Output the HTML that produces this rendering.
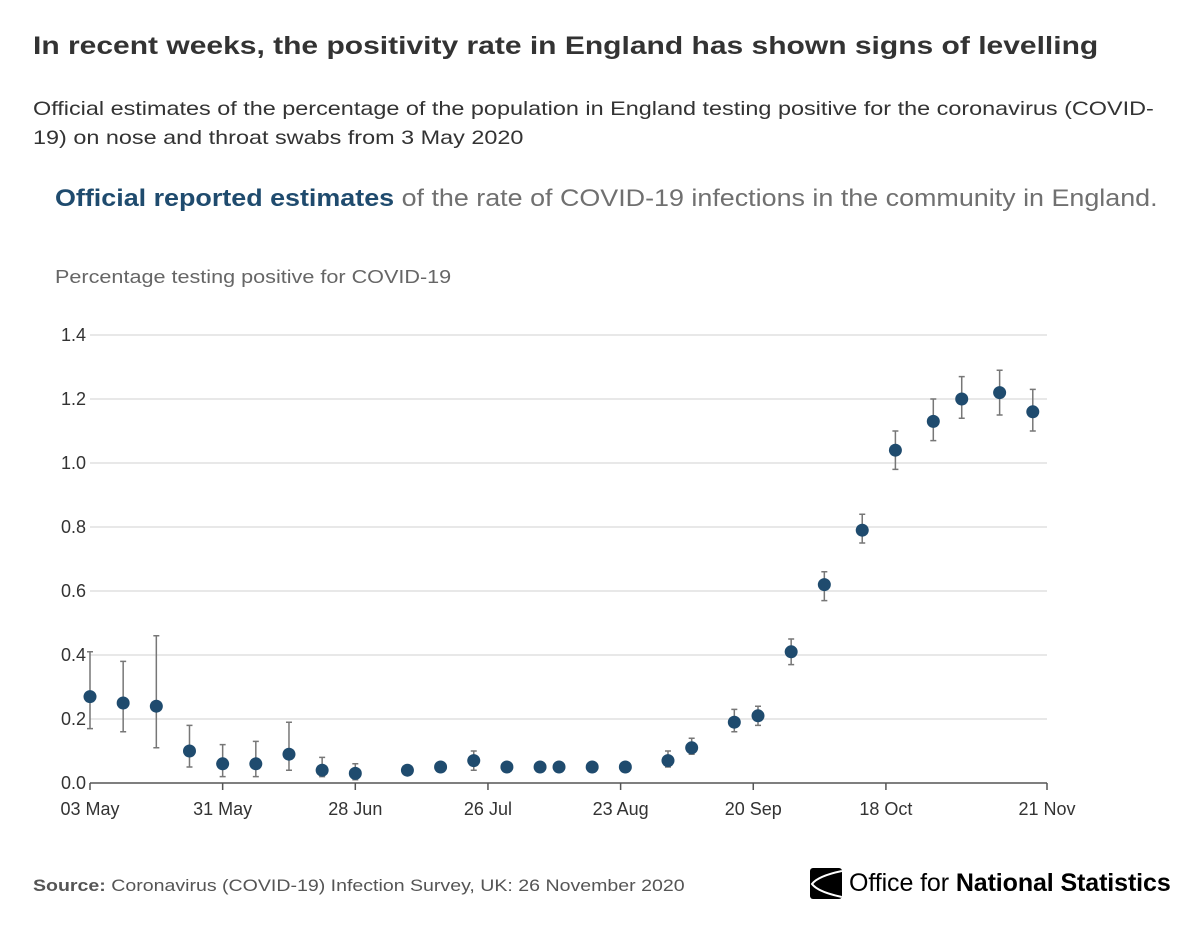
<!DOCTYPE html>
<html><head><meta charset="utf-8">
<style>
body{margin:0;width:1200px;height:929px;background:#fff;font-family:"Liberation Sans",sans-serif;position:relative;overflow:hidden}
.t{position:absolute;white-space:nowrap;transform-origin:0 0}
</style></head><body>
<div class="t" style="left:33px;top:32px;font-size:25px;font-weight:bold;color:#333;transform:scaleX(1.2)">In recent weeks, the positivity rate in England has shown signs of levelling</div>
<div class="t" style="left:33px;top:95px;font-size:19.5px;color:#333;line-height:29px;transform:scaleX(1.2)">Official estimates of the percentage of the population in England testing positive for the coronavirus (COVID-<br>19) on nose and throat swabs from 3 May 2020</div>
<div class="t" style="left:55px;top:185px;font-size:24px;color:#707070;transform:scaleX(1.12)"><b style="color:#1f4b6e">Official reported estimates</b> of the rate of COVID-19 infections in the community in England.</div>
<div class="t" style="left:55px;top:267px;font-size:18px;color:#666;transform:scaleX(1.2)">Percentage testing positive for COVID-19</div>
<svg id="chart" width="1200" height="929" style="position:absolute;left:0;top:0"></svg>
<div class="t" style="left:33px;top:876px;font-size:17px;color:#555;transform:scaleX(1.15)"><b>Source:</b> Coronavirus (COVID-19) Infection Survey, UK: 26 November 2020</div>
<div style="position:absolute;left:810px;top:868px;width:32px;height:31px;background:#000;border-radius:3px;overflow:hidden">
<svg width="32" height="31"><path d="M32 3 Q8 8 2 16 Q8 24 32 29" stroke="#fff" stroke-width="2" fill="none"/></svg></div>
<div class="t" style="left:849px;top:869px;font-size:25px;color:#000;letter-spacing:-0.1px">Office for <b style="font-weight:600">National Statistics</b></div>
<script>
const days=[0,7,14,21,28,35,42,49,56,67,74,81,88,95,99,106,113,122,127,136,141,148,155,163,170,178,184,192,199];
const values=[0.27,0.25,0.24,0.10,0.06,0.06,0.09,0.04,0.03,0.04,0.05,0.07,0.05,0.05,0.05,0.05,0.05,0.07,0.11,0.19,0.21,0.41,0.62,0.79,1.04,1.13,1.20,1.22,1.16];
const lower=[0.17,0.16,0.11,0.05,0.02,0.02,0.04,0.02,0.01,0.03,0.04,0.04,0.04,0.04,0.04,0.04,0.04,0.05,0.09,0.16,0.18,0.37,0.57,0.75,0.98,1.07,1.14,1.15,1.10];
const upper=[0.41,0.38,0.46,0.18,0.12,0.13,0.19,0.08,0.06,0.05,0.06,0.10,0.06,0.06,0.06,0.06,0.06,0.10,0.14,0.23,0.24,0.45,0.66,0.84,1.10,1.20,1.27,1.29,1.23];
const yTicks=[0,0.2,0.4,0.6,0.8,1.0,1.2,1.4];
const xTickDays=[0,28,56,84,112,140,168,202];
const xTickLabels=["03 May","31 May","28 Jun","26 Jul","23 Aug","20 Sep","18 Oct","21 Nov"];
const X=d=>90+d*(1047-90)/202, Y=v=>783-v*320;
const svg=document.getElementById('chart'),NS='http://www.w3.org/2000/svg';
function mk(t,a){const e=document.createElementNS(NS,t);for(const k in a)e.setAttribute(k,a[k]);svg.appendChild(e);return e;}
yTicks.forEach(v=>{
 const g=mk('line',{x1:90,x2:1047,y1:Y(v),y2:Y(v),stroke:v===0?'#555':'#e0e0e0','stroke-width':1.5});
 
 
 const t=mk('text',{x:86,y:Y(v)+6,'text-anchor':'end','font-size':18,fill:'#333','font-family':'Liberation Sans'});
 t.textContent=v.toFixed(1);
 
 
});
xTickDays.forEach((d,i)=>{
 const l=mk('line',{x1:X(d),x2:X(d),y1:783,y2:790,stroke:'#555','stroke-width':1.5});
 
 
 const t=mk('text',{x:X(d),y:815,'text-anchor':'middle','font-size':18,fill:'#333','font-family':'Liberation Sans'});
 t.textContent=xTickLabels[i];
 
 
});
days.forEach((d,i)=>{
 const x=X(d);
 const e=mk('path',{d:`M${x},${Y(lower[i])}V${Y(upper[i])}M${x-3},${Y(lower[i])}h6M${x-3},${Y(upper[i])}h6`,stroke:'#777','stroke-width':1.5,fill:'none'});
 
 
 const c=mk('circle',{cx:x,cy:Y(values[i]),r:6.5,fill:'#1f4b6e'});
 
 
});
</script>
</body></html>
